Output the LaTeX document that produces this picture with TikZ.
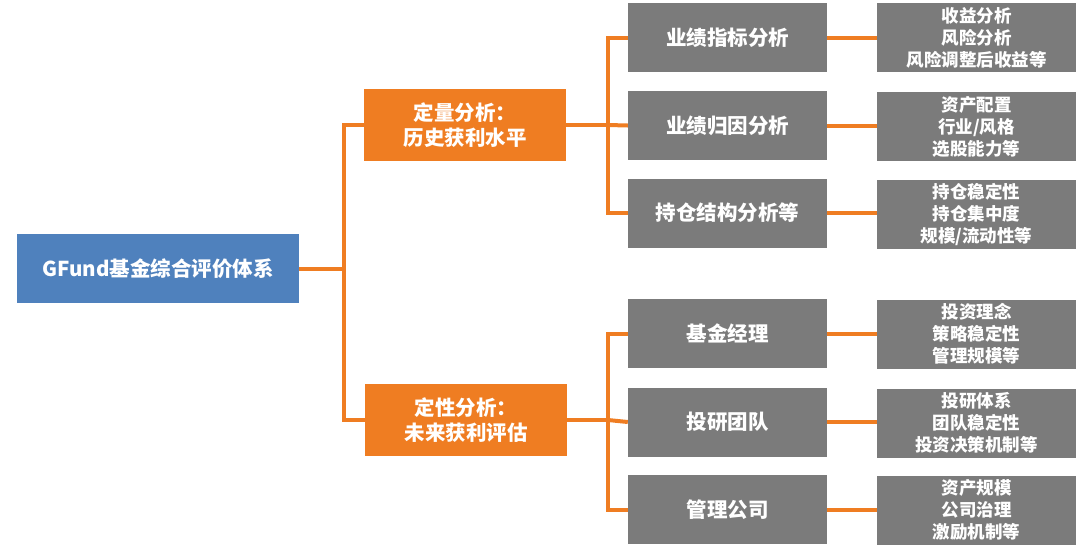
\documentclass[tikz,border=0pt]{standalone}
\usepackage{fontspec}
\setmainfont{Noto Sans CJK SC}
\definecolor{cblue}{HTML}{4F81BD}
\definecolor{corange}{HTML}{EF7D22}
\definecolor{cgray}{HTML}{7B7B7B}
\begin{document}
\begin{tikzpicture}[x=1pt,y=-1pt,
  base/.style={inner sep=0pt, align=center, text=white},
  rootbox/.style={base, fill=cblue, minimum width=282pt, minimum height=69pt, font=\bfseries\fontsize{20.5}{25}\selectfont},
  catbox/.style={base, fill=corange, minimum width=202pt, minimum height=72pt, font=\bfseries\fontsize{20.5}{25}\selectfont},
  midbox/.style={base, fill=cgray, minimum width=199pt, minimum height=69pt, font=\bfseries\fontsize{20.5}{25}\selectfont},
  detbox/.style={base, fill=cgray, minimum width=199pt, minimum height=69pt, font=\bfseries\fontsize{17.5}{22}\selectfont},
  conn/.style={draw=corange, line width=4pt}]
\useasboundingbox (0,0) rectangle (1080,550);

\node[rootbox] (root) at (158,268.5) {GFund基金综合评价体系};

\node[catbox] (q) at (465,125) {定量分析：\\历史获利水平};
\node[catbox] (l) at (466,420) {定性分析：\\未来获利评估};

\node[midbox] (m1) at (727.5,37.5) {业绩指标分析};
\node[midbox] (m2) at (727.5,125.5) {业绩归因分析};
\node[midbox] (m3) at (727.5,213) {持仓结构分析等};
\node[midbox] (m4) at (727.5,333.5) {基金经理};
\node[midbox] (m5) at (727.5,422) {投研团队};
\node[midbox] (m6) at (727.5,509.5) {管理公司};

\node[detbox] (r1) at (976.5,37.5) {收益分析\\风险分析\\风险调整后收益等};
\node[detbox] (r2) at (976.5,126.5) {资产配置\\行业/风格\\选股能力等};
\node[detbox] (r3) at (976.5,214) {持仓稳定性\\持仓集中度\\规模/流动性等};
\node[detbox] (r4) at (976.5,334) {投资理念\\策略稳定性\\管理规模等};
\node[detbox] (r5) at (976.5,423) {投研体系\\团队稳定性\\投资决策机制等};
\node[detbox] (r6) at (976.5,510) {资产规模\\公司治理\\激励机制等};

\coordinate (ja) at (344,268.5);
\coordinate (jb) at (608,125);
\coordinate (jc) at (608,420);

\draw[conn] (root.east) -- (ja);
\draw[conn] (q.west) -| (ja) |- (l.west);

\draw[conn] (q.east) -- (jb);
\draw[conn] (m1.west) -| (jb) |- (m3.west);
\draw[conn] (jb) -- (m2.west);

\draw[conn] (l.east) -- (jc);
\draw[conn] (m4.west) -| (jc) |- (m6.west);
\draw[conn] (jc) -- (m5.west);

\foreach \i in {1,...,6} {
  \draw[conn] (m\i.east) -- (m\i.east -| r\i.west);
}
\end{tikzpicture}
\end{document}
